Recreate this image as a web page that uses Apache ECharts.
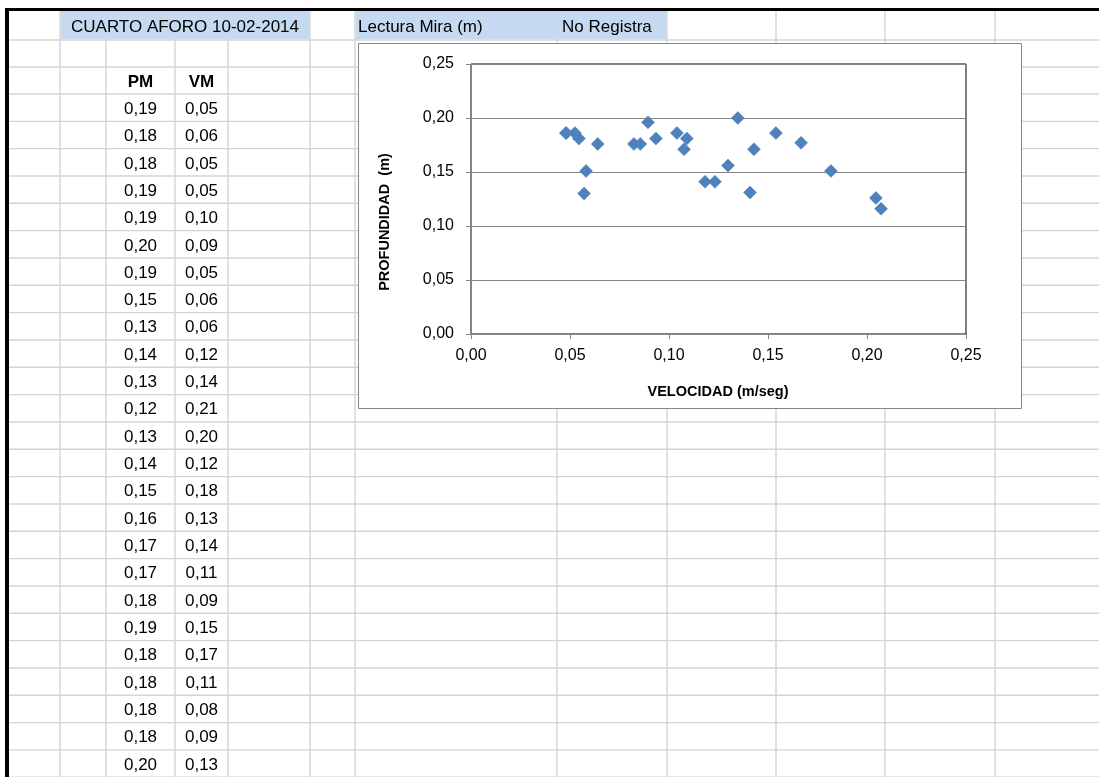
<!DOCTYPE html>
<html>
<head>
<meta charset="utf-8">
<title>Cuarto aforo 10-02-2014</title>
<script src="https://cdn.jsdelivr.net/npm/echarts@6/dist/echarts.min.js"></script>
<style>
  html, body { margin: 0; padding: 0; background: #fff; }
  #main { width: 1099px; height: 777px; }
</style>
</head>
<body>
<div id="main"></div>
<script>
// Velocidad media (m/seg) y profundidad media (m) de cada vertical del aforo
const velocidad = [0.048, 0.064, 0.0545, 0.0525, 0.104, 0.0894, 0.048, 0.0581, 0.0571, 0.1182,
                   0.1409, 0.2071, 0.2045, 0.1232, 0.1818, 0.1298, 0.1429, 0.1076, 0.0934, 0.154,
                   0.1667, 0.109, 0.0823, 0.0855, 0.1348];
const profundidad = [0.186, 0.176, 0.181, 0.186, 0.186, 0.196, 0.186, 0.151, 0.130, 0.141,
                     0.131, 0.116, 0.126, 0.141, 0.151, 0.156, 0.171, 0.171, 0.181, 0.186,
                     0.177, 0.181, 0.176, 0.176, 0.200];
const axisTicks = [0, 0.05, 0.10, 0.15, 0.20, 0.25];
const tituloAforo = 'CUARTO AFORO 10-02-2014';
const tituloMira = 'Lectura Mira (m)';
const estadoMira = 'No Registra';
const encabezados = ['PM', 'VM'];
const tituloX = 'VELOCIDAD (m/seg)';
const tituloY = 'PROFUNDIDAD  (m)';

const fmt = v => v.toFixed(2).replace('.', ',');

// ---- hoja de cálculo: cuadrícula, celdas y textos ----
const W = 1099, H = 777;
const FONT = '"Liberation Sans", Arial, sans-serif';
const colX = [60, 106, 175, 228, 310, 355, 557, 667, 776, 885, 995];
const ROW_H = 27.33;
const rowY = [11, 40, 67, 94];
for (let k = 1; k <= 26; k++) rowY.push(94 + k * ROW_H);
const gridColor = '#d4d4d4';

const sheet = [];
sheet.push({ type: 'rect', z: -20, shape: { x: 0, y: 0, width: W, height: H }, style: { fill: '#fff' } });
rowY.slice(1).forEach(y => {
  sheet.push({ type: 'line', z: -19, shape: { x1: 9, y1: y, x2: W, y2: y },
    style: { stroke: gridColor, lineWidth: 1.4 } });
});
colX.forEach(x => {
  sheet.push({ type: 'line', z: -19, shape: { x1: x, y1: 11, x2: x, y2: H },
    style: { stroke: gridColor, lineWidth: 1.4 } });
});
// celdas con relleno azul
sheet.push({ type: 'rect', z: -18, shape: { x: 60.8, y: 11, width: 248.5, height: 28.3 }, style: { fill: '#c5d9f1' } });
sheet.push({ type: 'rect', z: -18, shape: { x: 355.8, y: 11, width: 310.5, height: 28.3 }, style: { fill: '#c5d9f1' } });
// borde grueso de la hoja
sheet.push({ type: 'rect', z: -17, shape: { x: 5, y: 8, width: W - 5, height: 3 }, style: { fill: '#000' } });
sheet.push({ type: 'rect', z: -17, shape: { x: 5, y: 8, width: 4, height: H - 8 }, style: { fill: '#000' } });

const cellText = (text, x, y, align, bold) => ({
  type: 'text', z: -16, x: x, y: y,
  style: { text: text, fill: '#000', font: (bold ? 'bold ' : '') + '17px ' + FONT,
           textAlign: align, textVerticalAlign: 'middle' }
});
sheet.push(cellText(tituloAforo, 185, 27.5, 'center'));
sheet.push(cellText(tituloMira, 358, 27.5, 'left'));
sheet.push(cellText(estadoMira, 562, 27.5, 'left'));
sheet.push(cellText(encabezados[0], 140.5, 82, 'center', true));
sheet.push(cellText(encabezados[1], 201.5, 82, 'center', true));
profundidad.forEach((p, i) => {
  const yc = 94 + i * ROW_H + ROW_H / 2 + 1.5;
  sheet.push(cellText(fmt(p), 140.5, yc, 'center'));
  sheet.push(cellText(fmt(velocidad[i]), 201.5, yc, 'center'));
});

// marco del gráfico y títulos de ejes
sheet.push({ type: 'rect', z: -10, shape: { x: 358.5, y: 43.5, width: 663, height: 365 },
  style: { fill: '#fff', stroke: '#868686', lineWidth: 1 } });
sheet.push({ type: 'text', z: 5, x: 718, y: 392,
  style: { text: tituloX, fill: '#000', font: 'bold 14.5px ' + FONT, textAlign: 'center', textVerticalAlign: 'middle' } });
sheet.push({ type: 'text', z: 5, x: 385, y: 222, rotation: Math.PI / 2,
  style: { text: tituloY, fill: '#000', font: 'bold 14.5px ' + FONT, textAlign: 'center', textVerticalAlign: 'middle' } });

const chart = echarts.init(document.getElementById('main'), null, { renderer: 'canvas' });
const axisCommon = {
  type: 'value',
  min: axisTicks[0],
  max: axisTicks[axisTicks.length - 1],
  interval: axisTicks[1] - axisTicks[0],
  axisLine: { show: true, onZero: false, lineStyle: { color: '#868686', width: 1 } },
  axisTick: { show: true, inside: false, length: 5, lineStyle: { color: '#868686' } },
  axisLabel: { color: '#000', fontSize: 16, fontFamily: FONT, formatter: v => fmt(v) }
};
chart.setOption({
  animation: false,
  backgroundColor: 'transparent',
  graphic: { elements: sheet },
  grid: { left: 471, top: 64, width: 495, height: 270, show: true, borderColor: '#000', borderWidth: 1,
          backgroundColor: 'transparent', containLabel: false },
  xAxis: Object.assign({}, axisCommon, {
    splitLine: { show: false },
    axisLabel: Object.assign({}, axisCommon.axisLabel, { margin: 14 })
  }),
  yAxis: Object.assign({}, axisCommon, {
    splitLine: { show: true, lineStyle: { color: '#868686', width: 1 } },
    axisLabel: Object.assign({}, axisCommon.axisLabel, { margin: 17 })
  }),
  series: [{
    type: 'scatter',
    data: velocidad.map((v, i) => [v, profundidad[i]]),
    symbol: 'diamond',
    symbolSize: 13,
    itemStyle: { color: '#4f81bd', opacity: 1, borderColor: '#4a7ebb', borderWidth: 0.5 }
  }]
});
</script>
</body>
</html>
